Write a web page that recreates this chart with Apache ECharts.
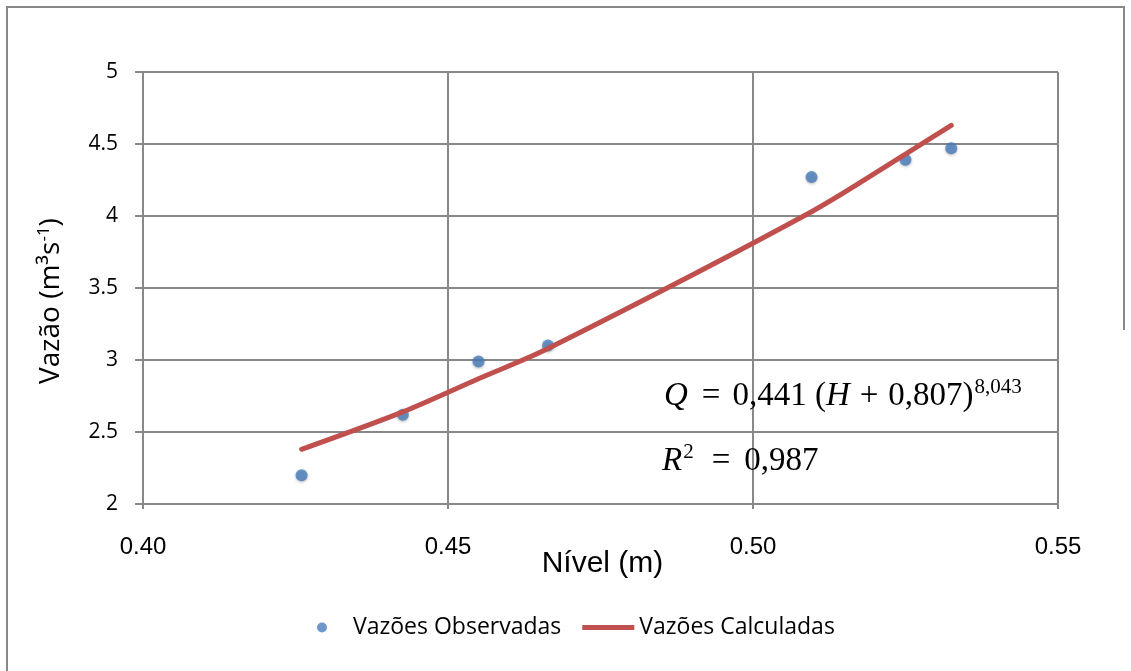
<!DOCTYPE html>
<html>
<head>
<meta charset="utf-8">
<script src="https://cdn.jsdelivr.net/npm/echarts@6/dist/echarts.min.js"></script>
<style>
html,body{margin:0;padding:0;background:#fff;}
#c{width:1131px;height:671px;}
</style>
</head>
<body>
<div id="c"></div>
<script>
// Data
const nivelObs = [0.4260, 0.4426, 0.4550, 0.4664, 0.5096, 0.5250, 0.5325];
const vazaoObs = [2.20, 2.62, 2.99, 3.10, 4.27, 4.39, 4.47];
const vazaoCalc = [2.38, 2.64, 2.87, 3.08, 4.03, 4.43, 4.63];
const xTicks = [0.40, 0.45, 0.50, 0.55];
const yTicks = [2, 2.5, 3, 3.5, 4, 4.5, 5];

const obsData = nivelObs.map((x, i) => [x, vazaoObs[i]]);
const calcData = nivelObs.map((x, i) => [x, vazaoCalc[i]]);

const font = "'Open Sans', 'Noto Sans', sans-serif";
const arial = "'Liberation Sans', Arial, sans-serif";
const serif = "'Liberation Serif', 'Times New Roman', serif";
const chart = echarts.init(document.getElementById('c'), null, {renderer: 'canvas'});
chart.setOption({
  backgroundColor: '#fff',
  animation: false,
  grid: {left: 143, right: 73, top: 72, bottom: 167, containLabel: false},
  xAxis: {
    type: 'value', min: 0.40, max: 0.55, interval: 0.05,
    name: 'Nível (m)', nameLocation: 'middle', nameGap: 45, nameMoveOverlap: false,
    nameTextStyle: {fontSize: 30, color: '#000', fontFamily: arial, padding: [0, 0, 0, 4]},
    axisLine: {show: true, lineStyle: {color: '#888', width: 2}},
    axisTick: {show: true, length: 5, lineStyle: {color: '#888', width: 2}},
    axisLabel: {fontSize: 24, color: '#000', fontFamily: arial, margin: 31,
      formatter: v => v.toFixed(2)},
    splitLine: {show: true, lineStyle: {color: '#888', width: 2}}
  },
  yAxis: {
    type: 'value', min: 2, max: 5, interval: 0.5,
    name: '{n|Vazão (m³s}{s|-1}{n|)}', nameLocation: 'middle', nameGap: 76, nameMoveOverlap: false,
    nameTextStyle: {
      padding: [0, 26, 0, 0],
      rich: {
        n: {fontSize: 28, color: '#000', fontFamily: font},
        s: {fontSize: 17, color: '#000', fontFamily: font, verticalAlign: 'top', padding: [0, 0, 14, 0]}
      }
    },
    axisLine: {show: true, lineStyle: {color: '#888', width: 2}},
    axisTick: {show: true, inside: false, length: 8, lineStyle: {color: '#888', width: 2}},
    axisLabel: {fontSize: 21, color: '#000', fontFamily: font, margin: 25},
    splitLine: {show: true, lineStyle: {color: '#888', width: 2}}
  },
  legend: {
    left: 312, top: 611, itemGap: 21, itemWidth: 52, itemHeight: 10,
    textStyle: {fontSize: 23, color: '#000', fontFamily: font},
    data: [
      {name: 'Vazões Observadas', icon: 'circle', itemStyle: {color: '#4a7ebb'}},
      {name: 'Vazões Calculadas', icon: 'path://M0,0L52,0L52,5L0,5Z', itemStyle: {color: '#c0504d'}}
    ]
  },
  series: [
    {
      name: 'Vazões Observadas', type: 'scatter', data: obsData,
      symbol: 'circle', symbolSize: 12,
      itemStyle: {color: '#4a7ebb', shadowColor: 'rgba(0,0,0,0.35)', shadowBlur: 3, shadowOffsetY: 1},
      z: 2
    },
    {
      name: 'Vazões Calculadas', type: 'line', data: calcData,
      smooth: 0.3, showSymbol: false, symbol: 'none',
      lineStyle: {color: '#c0504d', width: 5, cap: 'round'},
      itemStyle: {color: '#c0504d'},
      z: 3
    }
  ],
  graphic: [
    {type: 'polyline', shape: {points: [[7, 671], [7, 7], [1124, 7], [1124, 330]]}, style: {fill: null, stroke: '#888', lineWidth: 2}, silent: true, z: -1},
    {
      type: 'text', left: 664, top: 377, z: 10,
      style: {
        text: '{i|Q}{e|=}{r|0,441 (}{i|H}{o|+}{r|0,807)}{s|8,043}',
        rich: {
          i: {fontSize: 33, fontStyle: 'italic', fontFamily: serif, fill: '#000'},
          r: {fontSize: 33, fontFamily: serif, fill: '#000'},
          e: {fontSize: 33, fontFamily: serif, fill: '#000', padding: [0, 12, 0, 14]},
          o: {fontSize: 33, fontFamily: serif, fill: '#000', padding: [0, 10, 0, 10]},
          s: {fontSize: 21, fontFamily: serif, fill: '#000', verticalAlign: 'top', padding: [0, 0, 18, 1]}
        }
      }
    },
    {
      type: 'text', left: 662, top: 442, z: 10,
      style: {
        text: '{i|R}{s|2}{e|=}{r|0,987}',
        rich: {
          i: {fontSize: 33, fontStyle: 'italic', fontFamily: serif, fill: '#000'},
          r: {fontSize: 33, fontFamily: serif, fill: '#000'},
          e: {fontSize: 33, fontFamily: serif, fill: '#000', padding: [0, 14, 0, 18]},
          s: {fontSize: 21, fontFamily: serif, fill: '#000', verticalAlign: 'top', padding: [0, 0, 18, 1]}
        }
      }
    }
  ]
});
</script>
</body>
</html>
